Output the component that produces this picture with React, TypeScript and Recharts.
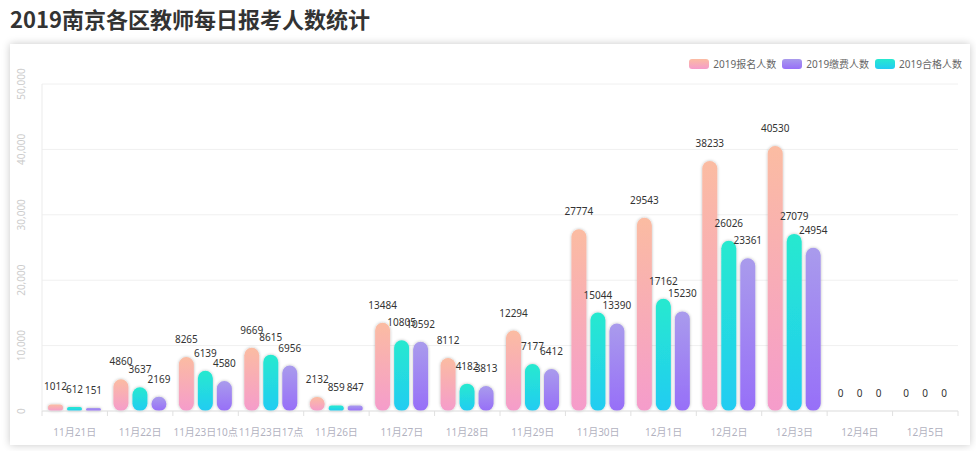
import { BarChart, Bar, XAxis, YAxis, CartesianGrid, LabelList, Rectangle } from "recharts";

const categories = [
  "11月21日",
  "11月22日",
  "11月23日10点",
  "11月23日17点",
  "11月26日",
  "11月27日",
  "11月28日",
  "11月29日",
  "11月30日",
  "12月1日",
  "12月2日",
  "12月3日",
  "12月4日",
  "12月5日",
];

// 2019报名人数
const signup = [1012, 4860, 8265, 9669, 2132, 13484, 8112, 12294, 27774, 29543, 38233, 40530, 0, 0];
// 2019合格人数
const qualified = [612, 3637, 6139, 8615, 859, 10805, 4182, 7177, 15044, 17162, 26026, 27079, 0, 0];
// 2019缴费人数
const paid = [151, 2169, 4580, 6956, 847, 10592, 3813, 6412, 13390, 15230, 23361, 24954, 0, 0];

const yTicks = [0, 10000, 20000, 30000, 40000, 50000];

const data = categories.map((name, i) => ({
  name,
  signup: signup[i],
  qualified: qualified[i],
  paid: paid[i],
}));

const legendItems = [
  { label: "2019报名人数", from: "#fbbca2", to: "#f59ccb" },
  { label: "2019缴费人数", from: "#a99bec", to: "#976ff8" },
  { label: "2019合格人数", from: "#27e9cf", to: "#22ccf2" },
];

const font = "'Noto Sans', 'Noto Sans CJK SC', sans-serif";

const barShape = (grad: string) => (p: any) => (
  <Rectangle
    x={p.x}
    y={p.y}
    width={p.width}
    height={p.height}
    radius={p.width / 2}
    fill={`url(#${grad})`}
    filter="url(#barShadow)"
  />
);

const ValueLabel = (p: any) => {
  const { x, y, width, value } = p;
  return (
    <text x={x + width / 2} y={y - 14} textAnchor="middle" fontSize={10} fill="#333" fontFamily={font}>
      {value}
    </text>
  );
};

const XTick = (p: any) => {
  const { x, y, payload, index } = p;
  const half = payload.offset || 0;
  return (
    <g>
      <line x1={x - half} x2={x - half} y1={y} y2={y + 5} stroke="#e0e0e0" />
      {index === categories.length - 1 && (
        <line x1={x + half} x2={x + half} y1={y} y2={y + 5} stroke="#e0e0e0" />
      )}
      <text x={x} y={y + 25} textAnchor="middle" fontSize={10} fill="#b2b2bf" fontFamily={font}>
        {payload.value}
      </text>
    </g>
  );
};

const YTick = (p: any) => {
  const { x, y, payload } = p;
  const tx = x - 17;
  return (
    <text
      x={tx}
      y={y}
      transform={`rotate(-90 ${tx} ${y})`}
      textAnchor="middle"
      fontSize={10}
      fill="#cccccc"
      fontFamily={font}
    >
      {Number(payload.value).toLocaleString("en-US")}
    </text>
  );
};

export default function App() {
  return (
    <div style={{ position: "absolute", left: 0, top: 0, width: 976, height: 451, background: "#fff" }}>
      <div
        style={{
          position: "absolute",
          left: 10,
          top: 4,
          fontSize: 22,
          lineHeight: "28px",
          fontWeight: "bold",
          color: "#333",
          fontFamily: "'Noto Sans CJK SC', sans-serif",
        }}
      >
        2019南京各区教师每日报考人数统计
      </div>
      <div
        style={{
          position: "absolute",
          left: 10,
          top: 44,
          width: 960,
          height: 401,
          background: "#fff",
          boxShadow: "0 0 8px rgba(0,0,0,0.22)",
        }}
      >
        <BarChart
          width={960}
          height={400}
          data={data}
          margin={{ top: 40, right: 12, left: 0, bottom: 0 }}
          barSize={15}
          barGap={4}
        >
          <defs>
            <linearGradient id="gSignup" x1="0" y1="0" x2="0" y2="1">
              <stop offset="0%" stopColor="#fbbca2" />
              <stop offset="100%" stopColor="#f59ccb" />
            </linearGradient>
            <linearGradient id="gQualified" x1="0" y1="0" x2="0" y2="1">
              <stop offset="0%" stopColor="#27e9cf" />
              <stop offset="100%" stopColor="#22ccf2" />
            </linearGradient>
            <linearGradient id="gPaid" x1="0" y1="0" x2="0" y2="1">
              <stop offset="0%" stopColor="#a99bec" />
              <stop offset="100%" stopColor="#976ff8" />
            </linearGradient>
            <filter id="barShadow" filterUnits="userSpaceOnUse" x="0" y="0" width="960" height="400">
              <feDropShadow dx="0" dy="0" stdDeviation="1.4" floodColor="#000" floodOpacity="0.28" />
            </filter>
          </defs>
          <CartesianGrid vertical={false} stroke="#f0f0f0" />
          <XAxis
            dataKey="name"
            height={33}
            tickSize={0}
            tickMargin={0}
            interval={0}
            stroke="#e3e3e3"
            tick={<XTick />}
          />
          <YAxis
            width={32}
            domain={[0, 50000]}
            ticks={yTicks}
            tickSize={0}
            tickMargin={0}
            stroke="#ebebeb"
            tick={<YTick />}
          />
          <Bar
            dataKey="signup"
            isAnimationActive={false}
            minPointSize={(v: number) => (v > 0 ? 3 : 0)}
            shape={barShape("gSignup")}
          >
            <LabelList dataKey="signup" content={<ValueLabel />} />
          </Bar>
          <Bar
            dataKey="qualified"
            isAnimationActive={false}
            minPointSize={(v: number) => (v > 0 ? 3 : 0)}
            shape={barShape("gQualified")}
          >
            <LabelList dataKey="qualified" content={<ValueLabel />} />
          </Bar>
          <Bar
            dataKey="paid"
            isAnimationActive={false}
            minPointSize={(v: number) => (v > 0 ? 3 : 0)}
            shape={barShape("gPaid")}
          >
            <LabelList dataKey="paid" content={<ValueLabel />} />
          </Bar>
        </BarChart>
        <div
          style={{
            position: "absolute",
            right: 8,
            top: 12,
            display: "flex",
            alignItems: "center",
            gap: 6,
            fontFamily: font,
            fontSize: 10,
            color: "#666",
          }}
        >
          {legendItems.map((it) => (
            <div key={it.label} style={{ display: "flex", alignItems: "center" }}>
              <div
                style={{
                  width: 20,
                  height: 10,
                  borderRadius: 3,
                  marginRight: 4,
                  background: `linear-gradient(${it.from}, ${it.to})`,
                }}
              />
              <span>{it.label}</span>
            </div>
          ))}
        </div>
      </div>
    </div>
  );
}
